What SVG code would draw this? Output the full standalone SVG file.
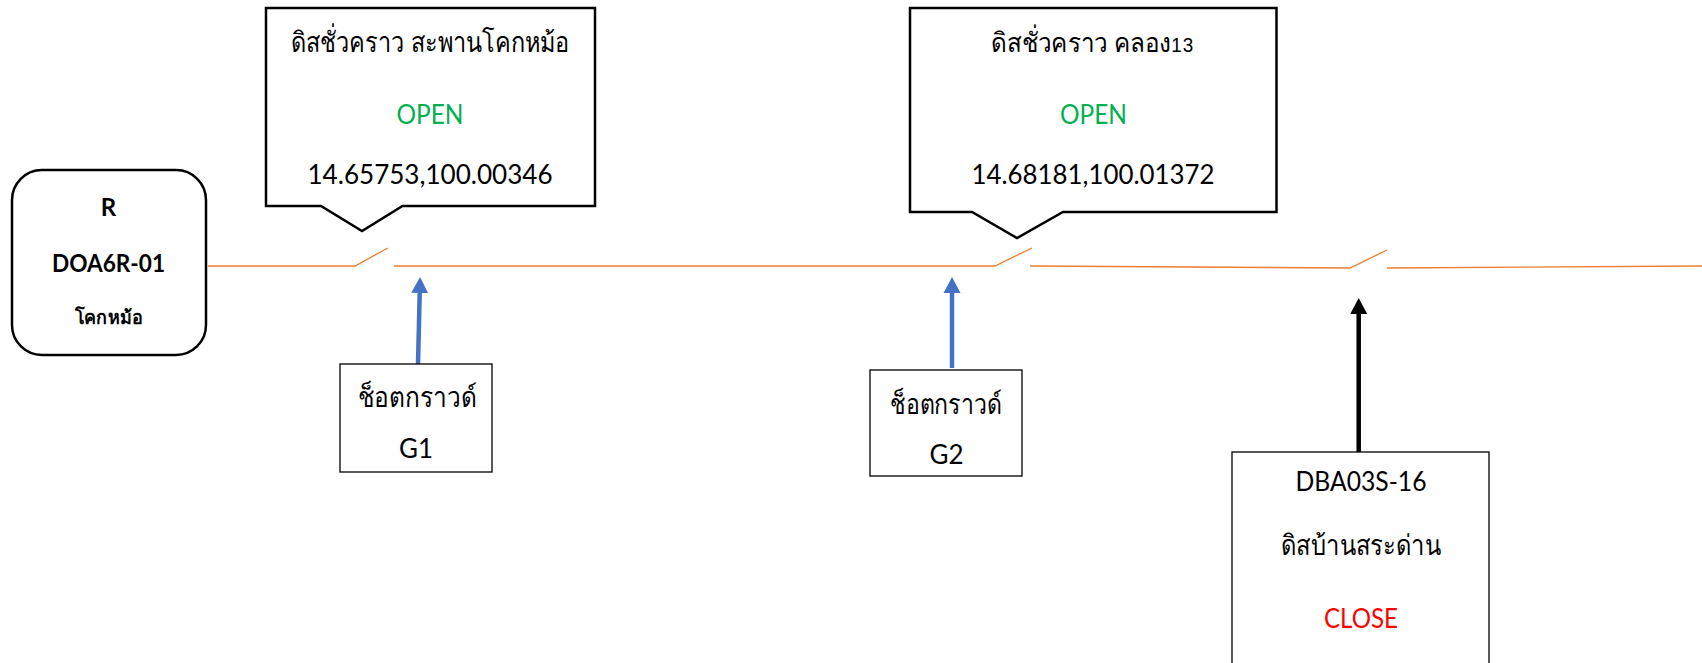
<svg xmlns="http://www.w3.org/2000/svg" width="1702" height="663" viewBox="0 0 1702 663">
<style>
text{font-family:"Lato","Noto Sans","DejaVu Sans",sans-serif;font-size:26px;text-anchor:middle;fill:#000}
.th{font-size:28px}
.b{font-weight:700}
.open{fill:#00b050}
.close{fill:#ff0000}
.num{font-family:"Liberation Sans",sans-serif;font-size:21px;letter-spacing:1px}
.callout{fill:#fff;stroke:#000;stroke-width:2.5}
.box{fill:#fff;stroke:#000;stroke-width:1.3}
.wire{fill:none;stroke:#ed7d31;stroke-width:1.3}
.blue{fill:none;stroke:#4472c4;stroke-width:4.5}
.blk{fill:none;stroke:#000;stroke-width:4.5}
</style>
<defs>
<marker id="ab" markerUnits="userSpaceOnUse" markerWidth="16" markerHeight="18" refX="0" refY="9" orient="auto"><path d="M0 0.500L16 9L0 17.500Z" fill="#4472c4"/></marker>
<marker id="ak" markerUnits="userSpaceOnUse" markerWidth="16" markerHeight="18" refX="0" refY="9" orient="auto"><path d="M0 0.500L16 9L0 17.500Z" fill="#000"/></marker>
</defs>
<g id="connectors">
<path class="wire" d="M208 266H355L388 248"/>
<path class="wire" d="M394 266H995L1032 248"/>
<path class="wire" d="M1030 266L1350 268L1387 250"/>
<path class="wire" d="M1387 268L1702 266"/>
<path class="blue" d="M418 364L419.700 293" marker-end="url(#ab)"/>
<path class="blue" d="M952 368V293" marker-end="url(#ab)"/>
<path class="blk" d="M1358.700 452V314" marker-end="url(#ak)"/>
</g>
<g id="node-r">
<rect x="12" y="170" width="194" height="185" rx="30" fill="#fff" stroke="#000" stroke-width="2.500"/>
<text class="b" x="108.500" y="216" style="font-size:24px">R</text>
<text class="b" x="108.500" y="272" textLength="113" lengthAdjust="spacingAndGlyphs" style="font-size:24px">DOA6R-01</text>
<text class="b" x="108.500" y="324" textLength="68" lengthAdjust="spacingAndGlyphs" style="font-size:19px">โคกหม้อ</text>
</g>
<g id="callout-1">
<path class="callout" d="M266 8H595V206H402.500L362 231L321 206H266Z"/>
<text class="th" x="430" y="52" textLength="279" lengthAdjust="spacingAndGlyphs">ดิสชั่วคราว สะพานโคกหม้อ</text>
<text class="open" x="430" y="124" textLength="67" lengthAdjust="spacingAndGlyphs">OPEN</text>
<text x="430" y="184" textLength="245" lengthAdjust="spacingAndGlyphs">14.65753,100.00346</text>
</g>
<g id="callout-2">
<path class="callout" d="M910 8H1276.500V212H1063L1017 238L972 212H910Z"/>
<text transform="translate(1092.500 52) scale(.9 1)" x="0" y="0" style="font-size:27px">ดิสชั่วคราว คลอง<tspan class="num">13</tspan></text>
<text class="open" x="1093.500" y="124" textLength="67" lengthAdjust="spacingAndGlyphs">OPEN</text>
<text x="1093" y="184" textLength="243" lengthAdjust="spacingAndGlyphs">14.68181,100.01372</text>
</g>
<g id="g1">
<rect class="box" x="340" y="364" width="152" height="108"/>
<text class="th" x="417" y="407" textLength="119" lengthAdjust="spacingAndGlyphs">ช็อตกราวด์</text>
<text x="416" y="458" textLength="34" lengthAdjust="spacingAndGlyphs">G1</text>
</g>
<g id="g2">
<rect class="box" x="870" y="370" width="152" height="106"/>
<text class="th" x="946" y="414" textLength="112" lengthAdjust="spacingAndGlyphs">ช็อตกราวด์</text>
<text x="946.500" y="464" textLength="34" lengthAdjust="spacingAndGlyphs">G2</text>
</g>
<g id="dba03s-16">
<rect class="box" x="1232" y="452" width="257" height="230"/>
<text x="1361" y="491" textLength="131" lengthAdjust="spacingAndGlyphs">DBA03S-16</text>
<text class="th" x="1361" y="555" textLength="160" lengthAdjust="spacingAndGlyphs">ดิสบ้านสระด่าน</text>
<text class="close" x="1361" y="628" textLength="74" lengthAdjust="spacingAndGlyphs">CLOSE</text>
</g>
</svg>
